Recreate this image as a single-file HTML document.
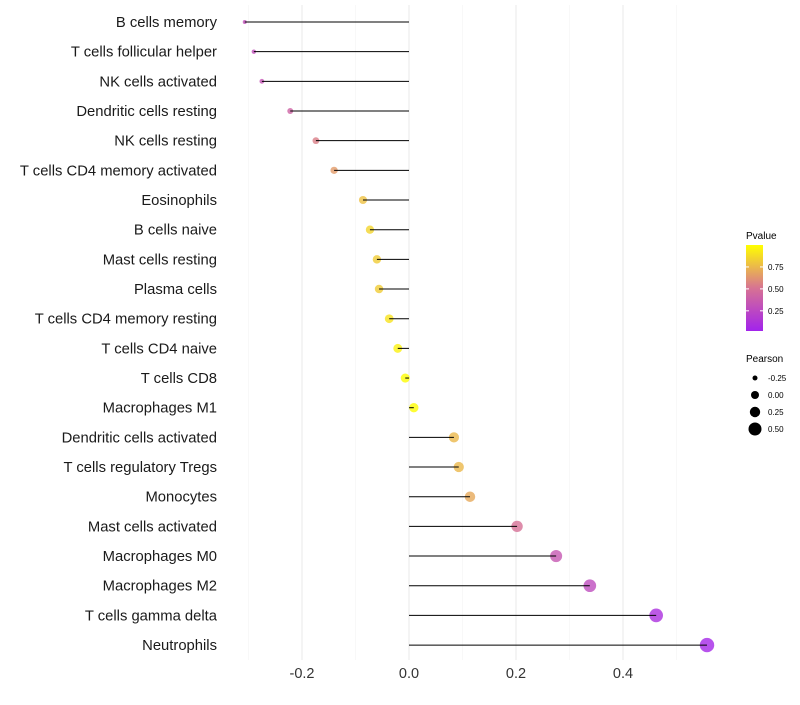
<!DOCTYPE html>
<html><head><meta charset="utf-8"><style>body{margin:0;background:#fff}svg{font-family:"Liberation Sans",sans-serif}</style></head>
<body>
<svg id="c" width="800" height="700"></svg>
<script>
const categories=["B cells memory","T cells follicular helper","NK cells activated","Dendritic cells resting","NK cells resting","T cells CD4 memory activated","Eosinophils","B cells naive","Mast cells resting","Plasma cells","T cells CD4 memory resting","T cells CD4 naive","T cells CD8","Macrophages M1","Dendritic cells activated","T cells regulatory  Tregs ","Monocytes","Mast cells activated","Macrophages M0","Macrophages M2","T cells gamma delta","Neutrophils"];
const pearson=[-0.307,-0.290,-0.275,-0.222,-0.174,-0.140,-0.086,-0.073,-0.060,-0.056,-0.037,-0.021,-0.007,0.009,0.084,0.093,0.114,0.202,0.275,0.338,0.462,0.557];
const pvalue=[0.3,0.3,0.33,0.42,0.55,0.65,0.78,0.85,0.82,0.82,0.9,0.95,0.99,0.99,0.75,0.75,0.7,0.5,0.35,0.28,0.1,0.05];
const xTicks=[-0.2,0,0.2,0.4];
const xMinor=[-0.3,-0.1,0.1,0.3,0.5];
const pTicks=[0.25,0.5,0.75];
const sizeTicks=[-0.25,0,0.25,0.5];
const NS="http://www.w3.org/2000/svg",svg=document.getElementById('c');
const x=v=>409+v*535, y=i=>22+i*29.67;
const rad=v=>Math.sqrt(Math.max(1,21.1+55.6*v));
function col(p){const a=[160,32,240],b=[214,112,150],c=[255,255,0];let t,f,g;if(p<0.5){t=p/0.5;f=a;g=b}else{t=(p-0.5)/0.5;f=b;g=c}return `rgb(${f.map((v,k)=>Math.round(v+(g[k]-v)*t)).join(',')})`;}
function el(n,a,p){const e=document.createElementNS(NS,n);for(const k in a)e.setAttribute(k,a[k]);(p||svg).appendChild(e);return e;}
xMinor.forEach(v=>{const l=el('line',{x1:x(v),x2:x(v),y1:5,y2:660,stroke:'#f3f3f3','stroke-width':0.6});

});
xTicks.forEach(v=>{const l=el('line',{x1:x(v),x2:x(v),y1:5,y2:660,stroke:'#ebebeb','stroke-width':1.1});


const t=el('text',{x:x(v),y:678,'text-anchor':'middle','font-size':14.5,fill:'#333'});t.textContent=v===0?'0.0':v.toFixed(1);

});
categories.forEach((c,i)=>{const t=el('text',{x:217,y:y(i)+5,'text-anchor':'end','font-size':14.8,fill:'#1a1a1a'});t.textContent=c;


const d=el('circle',{cx:x(pearson[i]),cy:y(i),r:rad(pearson[i]),fill:col(pvalue[i]),'fill-opacity':0.8});


const l=el('line',{x1:x(0),x2:x(pearson[i]),y1:y(i),y2:y(i),stroke:'#000','stroke-width':1});

});
// legend
const lg=el('g',{});
el('text',{x:746,y:239,'font-size':10,fill:'#000'},lg).textContent='Pvalue';
const defs=el('defs',{});const gr=el('linearGradient',{id:'pg',x1:0,y1:1,x2:0,y2:0},defs);
[0,0.25,0.5,0.75,1].forEach(s=>el('stop',{offset:s,'stop-color':col(0.02+s*0.98)},gr));
el('rect',{x:746,y:245,width:17,height:86,fill:'url(#pg)'},lg);
const py=p=>331-(p-0.02)/0.98*86;
pTicks.forEach(p=>{el('line',{x1:746,x2:749,y1:py(p),y2:py(p),stroke:'#fff'},lg);el('line',{x1:760,x2:763,y1:py(p),y2:py(p),stroke:'#fff'},lg);
el('text',{x:768,y:py(p)+3,'font-size':8,fill:'#000'},lg).textContent=p.toFixed(2);});
const sg=el('g',{});
el('text',{x:746,y:362,'font-size':10,fill:'#000'},sg).textContent='Pearson';
const lr=[2.5,4,5.2,6.5];
sizeTicks.forEach((s,k)=>{const yy=378+k*17;el('circle',{cx:755,cy:yy,r:lr[k],fill:'#000'},sg);
el('text',{x:768,y:yy+3,'font-size':8,fill:'#000'},sg).textContent=s.toFixed(2);});
</script>
</body></html>
